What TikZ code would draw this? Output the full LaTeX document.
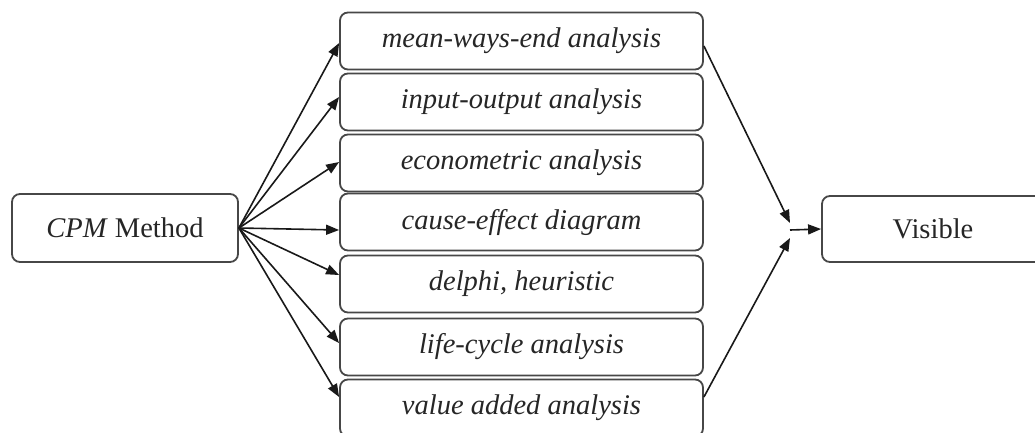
\documentclass[tikz,border=0pt]{standalone}
\usepackage{fontspec}
\setmainfont{Liberation Serif}
\usetikzlibrary{arrows.meta}
\begin{document}
\begin{tikzpicture}[x=1pt,y=-1pt,
  box/.style={draw=black!72, line width=1.8pt, rounded corners=8pt, fill=white,
    minimum height=57pt, inner sep=0pt, text=black!85,
    font=\fontsize{28.5}{34}\selectfont},
  midbox/.style={box, minimum width=363pt, font=\fontsize{28.5}{34}\selectfont\itshape},
  conn/.style={draw=black!90, line width=1.6pt, -{Triangle[length=13pt,width=10pt]}}]
\useasboundingbox (0,0) rectangle (1035,432);
\clip (0,0) rectangle (1035,432);
\node[box, minimum width=226pt, minimum height=68pt] (cpm) at (125,228) {\textit{CPM} Method};
\node[midbox] (m1) at (521.5,41) {mean-ways-end analysis};
\node[midbox] (m2) at (521.5,102) {input-output analysis};
\node[midbox] (m3) at (521.5,163) {econometric analysis};
\node[midbox] (m4) at (521.5,222) {cause-effect diagram};
\node[midbox] (m5) at (521.5,284) {delphi, heuristic};
\node[midbox] (m6) at (521.5,347) {life-cycle analysis};
\node[midbox] (m7) at (521.5,408) {value added analysis};
\node[box, minimum width=222pt, minimum height=66pt] (vis) at (933,229) {Visible};
\coordinate (jt) at (790,223);
\coordinate (jb) at (790,238);
\coordinate (j) at (790,230);
\draw[conn] (cpm.east) -- ([yshift=-2pt]m1.west);
\draw[conn] (cpm.east) -- ([yshift=5pt]m2.west);
\draw[conn] (cpm.east) -- ([yshift=1pt]m3.west);
\draw[conn] (cpm.east) -- ([yshift=-8pt]m4.west);
\draw[conn] (cpm.east) -- ([yshift=9pt]m5.west);
\draw[conn] (cpm.east) -- ([yshift=4pt]m6.west);
\draw[conn] (cpm.east) -- ([yshift=11pt]m7.west);
\draw[conn] ([yshift=-5pt]m1.east) -- (jt);
\draw[conn] ([yshift=11pt]m7.east) -- (jb);
\draw[conn] (j) -- (vis.west);
\end{tikzpicture}
\end{document}
